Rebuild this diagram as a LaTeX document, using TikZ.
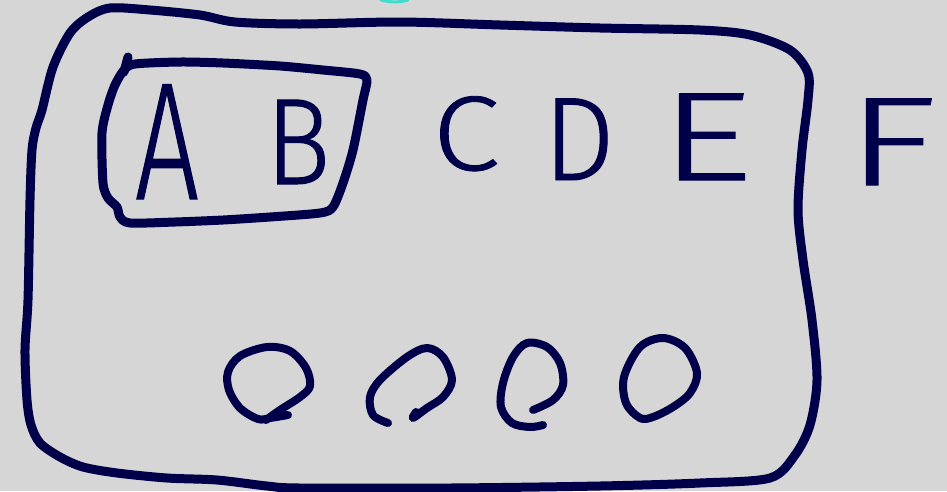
\documentclass[tikz,border=0pt]{standalone}
\usepackage{fontspec}
\setmainfont{Fira Sans}[UprightFont={* Light},UprightFeatures={FakeBold=0.8}]
\definecolor{ink}{HTML}{00004A}
\definecolor{bg}{HTML}{D6D6D6}
\definecolor{aqua}{HTML}{40DCD0}
\begin{document}
\begin{tikzpicture}[x=1pt,y=-1pt,
  pen/.style={draw=ink,line width=9pt,line cap=round,line join=round},
  thinpen/.style={draw=ink,line width=8pt,line cap=round,line join=round},
  letter/.style={text=ink,inner sep=0pt,anchor=base}]
\fill[bg] (0,0) rectangle (947,491);
\useasboundingbox (0,0) rectangle (947,491);
% cyan trace at top edge
\draw[aqua,line width=3pt,line cap=round] (381,0) .. controls (390,2.5) and (400,2.5) .. (408,0);
% outer border
\draw[pen] plot[smooth cycle,tension=0.5] coordinates {
 (32,150) (36,128) (42,110) (53,67) (70,33) (88,17) (110,8) (150,10) (200,15) (235,22)
 (300,24) (400,22) (500,25) (600,28) (700,30) (750,35) (790,50) (808,73) (808,100)
 (802,150) (798,210) (803,260) (812,320) (817,380) (810,425) (795,455) (770,478)
 (700,483) (600,486) (450,488) (300,488) (267,486) (217,480) (167,478) (117,473)
 (83,467) (60,457) (40,443) (31,425) (27,400) (25,350) (28,300) (30,200)};
% inner box around A B
\draw[pen] plot[smooth cycle,tension=0.45] coordinates {
 (124,70) (135,64) (180,62) (223,63) (280,66) (323,70) (360,74) (367,80) (363,100)
 (353,150) (343,183) (333,207) (320,213) (270,217) (223,220) (175,222) (130,223)
 (120,217) (117,207) (108,198) (103,183) (102,133) (108,105) (115,85)};
\draw[pen] (128,57) -- (124,72);
% letters
\node[letter,font=\fontsize{167}{167}\selectfont,xscale=0.68] (A) at (167,199) {A};
\node[letter,font=\fontsize{123}{123}\selectfont,xscale=0.88] (B) at (298,184) {B};
\node[letter,font=\fontsize{106}{106}\selectfont,xscale=1.15] (C) at (466,170) {C};
\node[letter,font=\fontsize{119}{119}\selectfont,xscale=0.95] (D) at (579,180) {D};
\node[letter,font=\fontsize{126}{126}\selectfont,xscale=1.45] (E) at (706,180) {E};
\node[letter,font=\fontsize{126}{126}\selectfont,xscale=1.5] (F) at (891,185) {F};
% circles
\draw[thinpen] plot[smooth,tension=0.55] coordinates {
 (288,415) (270,418) (258,419) (240,408) (229,390) (228,372) (240,356) (267,347)
 (290,351) (306,368) (310,386) (300,397) (280,410) (266,420)};
\draw[thinpen] plot[smooth,tension=0.55] coordinates {
 (388,423) (373,415) (370,397) (380,380) (407,357) (427,348) (443,357) (452,380)
 (443,397) (427,408) (413,418) (416,412)};
\draw[thinpen] plot[smooth,tension=0.55] coordinates {
 (533,410) (553,400) (563,385) (560,363) (547,347) (527,343) (513,357) (503,383)
 (501,407) (512,423) (530,427) (543,425)};
\draw[thinpen] plot[smooth cycle,tension=0.55] coordinates {
 (653,417) (673,407) (690,393) (697,373) (685,348) (663,338) (640,347) (624,377)
 (626,403) (640,418)};
\end{tikzpicture}
\end{document}
